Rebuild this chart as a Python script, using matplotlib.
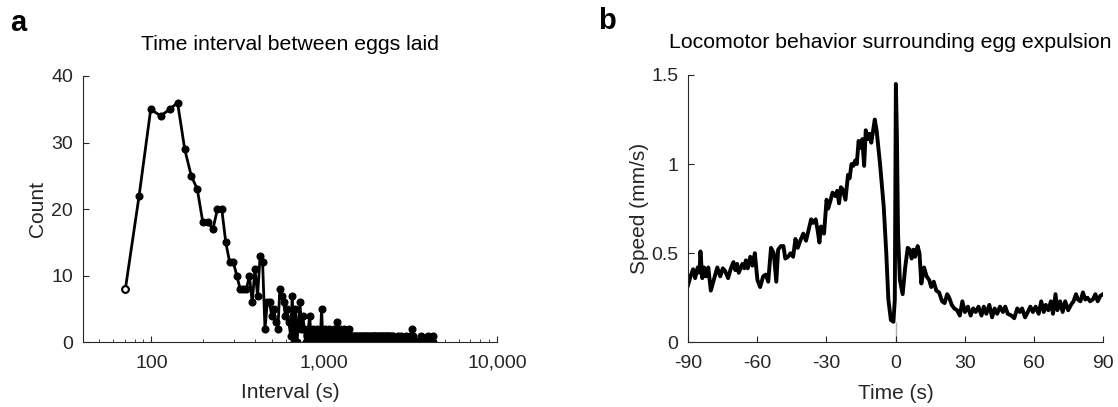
import numpy as np
import matplotlib
matplotlib.use('Agg')
import matplotlib.pyplot as plt
from matplotlib.ticker import FixedLocator, LogLocator, NullFormatter

plt.rcParams['font.family'] = ['Liberation Sans', 'DejaVu Sans']
plt.rcParams['axes.unicode_minus'] = False

# panel a: histogram of inter-egg intervals (linear bins, shown on log axis)
bin_start = 70.7
bin_width = 14.2
counts = [
    8, 22, 35, 34, 35, 36, 29, 25, 23, 18,
    18, 17, 20, 20, 15, 12, 12, 10, 8, 8,
    8, 10, 6, 11, 7, 13, 12, 2, 6, 6,
    4, 5, 3, 2, 8, 7, 6, 4, 5, 3,
    1, 7, 0, 5, 0, 3, 6, 2, 4, 2,
    0, 1, 2, 4, 1, 0, 2, 1, 0, 2,
    1, 0, 1, 5, 1, 0, 2, 1, 0, 1,
    2, 0, 1, 1, 0, 2, 1, 0, 1, 3,
    0, 1, 2, 0, 1, 1, 0, 2, 1, 0,
    1, 0, 1, 2, 0, 1, 1, 0, 1, 0,
    1, 0, 1, 1, 0, 1, 0, 0, 1, 1,
    0, 1, 0, 1, 1, 0, 0, 1, 0, 1,
    1, 0, 1, 0, 0, 1, 1, 0, 1, 0,
    0, 1, 1, 0, 1, 0, 1, 0, 0, 1,
    1, 0, 0, 1, 0, 1, 0, 1, 1, 0,
    0, 1, 0, 0, 1, 1, 0, 1, 0, 0,
    1, 0, 1, 0, 0, 1, 0, 0, 1, 0,
    0, 0, 1, 0, 0, 0, 0, 0, 0, 0,
    0, 0, 0, 0, 1, 0, 0, 0, 0, 0,
    0, 1, 0, 0, 0, 0, 0, 0, 0, 0,
    0, 0, 0, 0, 0, 1, 0, 0, 0, 0,
    0, 0, 0, 0, 0, 0, 0, 1, 0, 0,
    0, 1, 0, 2, 0, 0, 1, 0, 0, 0,
    0, 0, 0, 0, 0, 0, 0, 0, 0, 0,
    0, 0, 0, 0, 0, 0, 0, 0, 0, 0,
    0, 0, 1, 0, 0, 0, 0, 0, 0, 0,
    0, 0, 0, 0, 0, 0, 0, 0, 0, 0,
    0, 0, 0, 0, 0, 1, 0, 0, 0, 0,
    0, 0, 0, 0, 0, 0, 0, 0, 0, 0,
    0, 0, 0, 0, 1,
]
intervals = bin_start + bin_width * np.arange(len(counts))

# panel b: mean speed around egg expulsion
time_s = [
    -90, -88.9, -87.8, -86.9, -85.8, -85, -84.6, -83.8, -83, -82.2,
    -81.2, -80.1, -78.8, -77.3, -76, -74.9, -73.9, -72.6, -71.4, -70.3,
    -69.5, -68.7, -68, -66.4, -65.6, -64.9, -64.1, -63, -62.1, -61,
    -59.9, -58.7, -57.4, -56.3, -55.2, -54, -52.8, -51.7, -50.9, -49.7,
    -48.6, -47.8, -46.6, -45.5, -44.4, -43.4, -42.4, -41.3, -40, -38.8,
    -37.7, -36.6, -35.7, -34.6, -33.8, -33, -32.3, -31, -29.9, -29.2,
    -28.1, -27.3, -26.1, -25.3, -24.5, -23.7, -23, -21.7, -20.6, -19.9,
    -19.1, -18.3, -17.5, -16.8, -16, -15.2, -14.4, -13.6, -12.9, -12.1,
    -11.3, -10.5, -9.8, -9, -8.2, -6.7, -5.1, -4, -3.1, -2,
    -0.9, -0.3, 0.16, 0.6, 1.1, 1.9, 3.1, 4.2, 5.3, 6.2,
    7, 7.8, 8.5, 9.6, 10.4, 11.2, 12.4, 13.5, 14.6, 15.5,
    16.6, 17.7, 18.9, 20.2, 21.3, 22.4, 23.3, 24.4, 25.5, 26.7,
    27.9, 29, 30.1, 31.4, 32.6, 33.7, 34.8, 36, 37.3, 38.3,
    39.4, 40.7, 41.9, 43, 44.1, 45.3, 46.6, 47.6, 48.7, 50.3,
    51.5, 52.8, 53.9, 54.9, 56.2, 57.4, 58.5, 59.6, 60.8, 62.1,
    63.2, 64.3, 65.2, 66.3, 67.4, 68.3, 69.4, 70.2, 71.4, 72.5,
    73.6, 74.9, 76.1, 77.2, 78.3, 79.1, 80.2, 81.3, 82.3, 83.3,
    84.4, 85.6, 86.7, 87.7, 88.8, 90,
]
speed = [
    0.32, 0.37, 0.41, 0.36, 0.42, 0.39, 0.51, 0.36, 0.42, 0.37,
    0.42, 0.29, 0.35, 0.42, 0.37, 0.415, 0.40, 0.36, 0.415, 0.45,
    0.405, 0.44, 0.39, 0.44, 0.415, 0.46, 0.415, 0.48, 0.43, 0.50,
    0.35, 0.31, 0.37, 0.38, 0.34, 0.53, 0.50, 0.34, 0.52, 0.54,
    0.54, 0.47, 0.48, 0.50, 0.48, 0.58, 0.53, 0.57, 0.61, 0.57,
    0.63, 0.69, 0.67, 0.69, 0.63, 0.56, 0.65, 0.61, 0.80, 0.75,
    0.80, 0.84, 0.82, 0.85, 0.78, 0.87, 0.86, 0.80, 0.94, 0.92,
    1.00, 0.99, 1.02, 1.00, 1.13, 1.09, 1.14, 0.99, 1.19, 1.14,
    1.17, 1.12, 1.18, 1.25, 1.19, 1.00, 0.76, 0.50, 0.24, 0.125,
    0.115, 0.24, 1.45, 1.17, 0.61, 0.35, 0.27, 0.42, 0.53, 0.52,
    0.47, 0.52, 0.48, 0.54, 0.50, 0.33, 0.42, 0.37, 0.35, 0.31,
    0.34, 0.29, 0.28, 0.23, 0.22, 0.27, 0.25, 0.21, 0.19, 0.18,
    0.15, 0.23, 0.17, 0.20, 0.15, 0.19, 0.17, 0.20, 0.15, 0.20,
    0.16, 0.21, 0.14, 0.19, 0.16, 0.20, 0.17, 0.20, 0.16, 0.15,
    0.135, 0.19, 0.17, 0.19, 0.14, 0.17, 0.20, 0.17, 0.20, 0.16,
    0.23, 0.17, 0.21, 0.18, 0.23, 0.16, 0.27, 0.18, 0.23, 0.17,
    0.23, 0.18, 0.21, 0.23, 0.27, 0.24, 0.23, 0.28, 0.24, 0.25,
    0.23, 0.24, 0.27, 0.23, 0.26, 0.27,
]

axc = '#262626'
W, H = 1118, 407
fig = plt.figure(figsize=(W / 100, H / 100), dpi=100)
ax1 = fig.add_axes([82.6 / W, (H - 342.3) / H, 414.5 / W, 266.3 / H])
ax2 = fig.add_axes([688 / W, (H - 342.3) / H, 415 / W, 267.3 / H])

# panel a
ax1.plot(intervals, counts, '-o', color='black', lw=2.0, ms=4.8, mfc='black', mec='black')
ax1.plot(intervals[:1], counts[:1], 'o', ms=4.8, mfc='white', mec='black', mew=1.5)
ax1.set_xscale('log')
ax1.set_xlim(40, 10000)
ax1.set_ylim(0, 40)
ax1.xaxis.set_major_locator(FixedLocator([100, 1000, 10000]))
ax1.set_xticklabels(['100', '1,000', '10,000'])
ax1.xaxis.set_minor_locator(LogLocator(base=10, subs=np.arange(2, 10)))
ax1.xaxis.set_minor_formatter(NullFormatter())
ax1.set_yticks([0, 10, 20, 30, 40])
ax1.set_xlabel('Interval (s)', fontsize=15, color=axc, va='center')
ax1.set_ylabel('Count', fontsize=15, color=axc, va='center')
ax1.xaxis.set_label_coords(0.5, -0.19)
ax1.yaxis.set_label_coords(-0.108, 0.5)
ax1.text(0.5, 1.12, 'Time interval between eggs laid', transform=ax1.transAxes,
         ha='center', va='center', fontsize=15.3, color='black')

# panel b
ax2.vlines(0, 0, min(speed), color='#b0b0b0', lw=1.0, zorder=1)
ax2.plot(time_s, speed, color='black', lw=2.8, zorder=2)
ax2.set_xlim(-90, 90)
ax2.set_ylim(0, 1.5)
ax2.set_xticks([-90, -60, -30, 0, 30, 60, 90])
ax2.set_yticks([0, 0.5, 1, 1.5])
ax2.set_yticklabels(['0', '0.5', '1', '1.5'])
ax2.set_xlabel('Time (s)', fontsize=15, color=axc, va='center')
ax2.set_ylabel('Speed (mm/s)', fontsize=15, color=axc, va='center')
ax2.xaxis.set_label_coords(0.5, -0.19)
ax2.yaxis.set_label_coords(-0.117, 0.5)
ax2.text(0.487, 1.12, 'Locomotor behavior surrounding egg expulsion', transform=ax2.transAxes,
         ha='center', va='center', fontsize=15.3, color='black')

for ax in (ax1, ax2):
    for s in ('top', 'right'):
        ax.spines[s].set_visible(False)
    for s in ('left', 'bottom'):
        ax.spines[s].set_color(axc)
        ax.spines[s].set_linewidth(0.8)
    ax.tick_params(which='major', direction='in', length=4, width=0.8, colors=axc,
                   labelsize=14, pad=7)
    ax.tick_params(axis='x', which='major', pad=9)
    ax.tick_params(which='minor', direction='in', length=2.5, width=0.6, colors=axc)

fig.text(18 / W, 1 - 23 / H, 'a', fontsize=21, fontweight='bold', ha='center', va='center')
fig.text(606.5 / W, 1 - 21 / H, 'b', fontsize=21, fontweight='bold', ha='center', va='center')

fig.savefig('out.png', dpi=100)
